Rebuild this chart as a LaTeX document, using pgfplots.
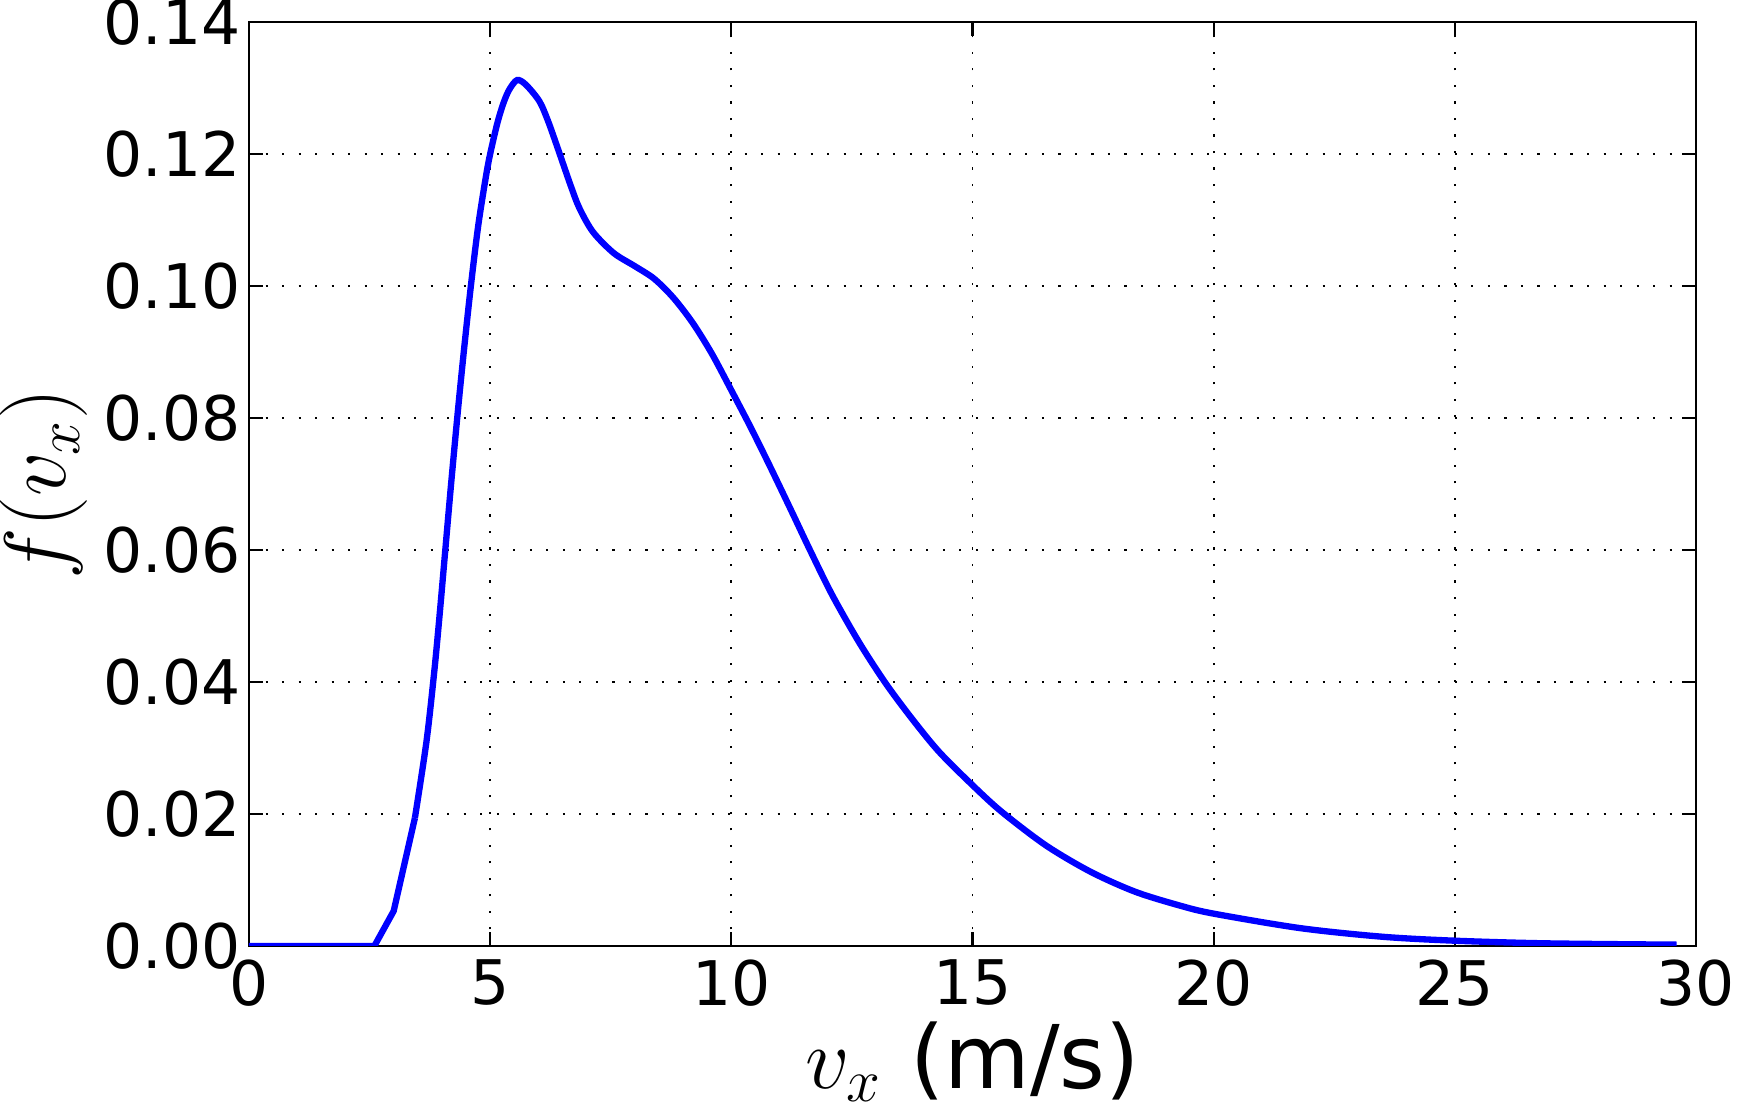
\documentclass[border=0pt]{standalone}
\usepackage{fontspec}
\setmainfont{DejaVu Sans}
\usepackage{pgfplots}
\pgfplotsset{compat=1.18}

\begin{document}
\begin{tikzpicture}
\useasboundingbox (-24.9mm,-16.6mm) rectangle (148.8mm,94.6mm);
\begin{axis}[
  at={(0,0)}, anchor=south west,
  scale only axis, width=144.7mm, height=92.4mm,
  xmin=0, xmax=30, ymin=0, ymax=0.14,
  xtick={0,5,10,15,20,25,30},
  xticklabels={0,5,10,15,20,25,30},
  ytick={0,0.02,0.04,0.06,0.08,0.10,0.12,0.14},
  yticklabels={0.00,0.02,0.04,0.06,0.08,0.10,0.12,0.14},
  tick align=inside, major tick length=1.4mm,
  ticklabel style={font=\fontsize{17.5}{21}\selectfont},
  xticklabel style={anchor=north, inner sep=0pt, yshift=-1.3mm},
  yticklabel style={anchor=east, inner sep=0pt, xshift=-0.8mm},
  grid=major,
  major grid style={black, line width=0.55pt, dash pattern=on 0.6pt off 4.1pt},
  axis line style={black, line width=0.65pt},
  every tick/.style={black, line width=0.65pt},
  xlabel={$v_x$ (m/s)},
  xlabel style={font=\fontsize{25}{30}\selectfont, at={(axis description cs:0.5,-0.1537)}, anchor=base, inner sep=0pt},
  ylabel={$f(v_x)$},
  ylabel style={font=\fontsize{25}{30}\selectfont, at={(axis description cs:-0.1265,0.5)}, rotate=0, anchor=base, inner sep=0pt},
]
  % flat part and coarse rise
  \addplot[blue, line width=1.8pt] coordinates {
    (0,0) (2.6,0) (3.0,0.0053) (3.44,0.0194)
  };
  % main body of the distribution
  \addplot[blue, line width=1.8pt, smooth, tension=0.5] coordinates {
    (3.44,0.0194) (3.68,0.0310) (3.84,0.0415) (3.95,0.050) (4.07,0.060)
    (4.19,0.070) (4.33,0.081) (4.46,0.0905) (4.6,0.100) (4.75,0.109)
    (4.91,0.1165) (5.0,0.1200) (5.15,0.1247) (5.28,0.1278) (5.4,0.1298)
    (5.56,0.1312) (5.74,0.1305) (6.02,0.1280) (6.2,0.1250) (6.39,0.1211)
    (6.67,0.1152) (6.85,0.1118) (7.13,0.1082) (7.56,0.1050) (8.0,0.1030)
    (8.4,0.1011) (8.8,0.0982) (9.2,0.0944) (9.6,0.0897) (10.0,0.0842)
    (10.4,0.0786) (10.8,0.0727) (11.26,0.0657) (11.63,0.0600) (12.09,0.0532)
    (12.65,0.0460) (13.2,0.0398) (13.76,0.0343) (14.31,0.0294) (15.01,0.0243)
    (15.61,0.0203) (16.53,0.0152) (17.46,0.0112) (18.38,0.0082) (19.31,0.0061)
    (20.0,0.0049) (21.8,0.0027) (23.5,0.0014) (25.0,0.0008) (26.9,0.0004)
    (29.6,0.0002)
  };
\end{axis}
\end{tikzpicture}
\end{document}
